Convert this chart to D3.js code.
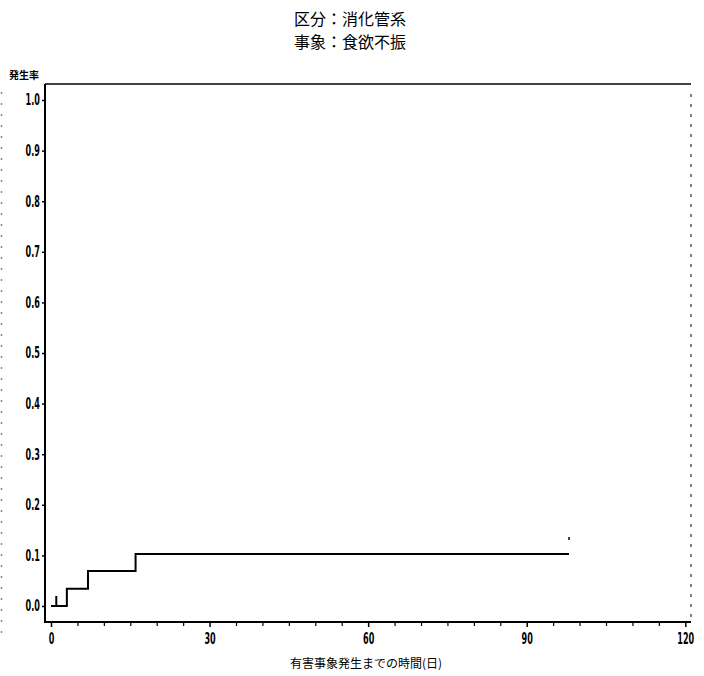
<!DOCTYPE html>
<html>
<head>
<meta charset="utf-8">
<script src="https://cdn.jsdelivr.net/npm/d3@7"></script>
<style>
  html, body { margin: 0; padding: 0; background: #fff; }
  svg { display: block; }
</style>
</head>
<body>
<svg id="chart" width="704" height="676"></svg>
<script>
// ---- data ----
const titleLines = ["区分：消化管系", "事象：食欲不振"];
const yLabel = "発生率";
const xLabel = "有害事象発生までの時間(日)";
const xTicks = [0, 30, 60, 90, 120];
const xMinorTicks = [5, 10, 15, 20, 25, 35, 40, 45, 50, 55, 65, 70, 75, 80, 85, 95, 100, 105, 110, 115];
const yTicks = [0.0, 0.1, 0.2, 0.3, 0.4, 0.5, 0.6, 0.7, 0.8, 0.9, 1.0];
const stepTimes = [0, 3, 7, 16, 98];
const stepRates = [0, 0.034, 0.069, 0.103, 0.103];
const censorTimes = [1];
const censorRates = [0];

// ---- layout ----
const svg = d3.select("#chart");
const frame = { left: 45, right: 691, top: 84, bottom: 622 };
const x = d3.scaleLinear().domain([0, 120]).range([51, 685.3]);
const y = d3.scaleLinear().domain([0, 1]).range([606, 100]);

const tickFont = "'DejaVu Sans Condensed', 'DejaVu Sans', sans-serif";
const cjk = "'Noto Sans CJK JP', 'Noto Sans CJK SC', sans-serif";

// left-edge scan artifact (faint dotted column)
svg.append("line")
  .attr("x1", 1.5).attr("x2", 1.5).attr("y1", 92).attr("y2", 640)
  .attr("stroke", "#888").attr("stroke-width", 1.5)
  .attr("stroke-dasharray", "2,9");

// title
svg.selectAll("text.title").data(titleLines).enter().append("text")
  .attr("class", "title")
  .attr("x", 350).attr("y", (d, i) => 25 + i * 23)
  .attr("text-anchor", "middle")
  .attr("font-family", cjk).attr("font-size", 16)
  .attr("fill", "#000")
  .text(d => d);

// frame: top and right
svg.append("line")
  .attr("x1", frame.left).attr("x2", frame.right)
  .attr("y1", frame.top).attr("y2", frame.top)
  .attr("stroke", "#000").attr("stroke-width", 1.5);
svg.append("line")
  .attr("x1", frame.right).attr("x2", frame.right)
  .attr("y1", frame.top + 10).attr("y2", frame.bottom)
  .attr("stroke", "#000").attr("stroke-width", 1)
  .attr("stroke-dasharray", "3,7");

// y axis
const yAxis = d3.axisLeft(y).tickValues(yTicks).tickFormat(d3.format(".1f"))
  .tickSize(3).tickSizeOuter(0);
const gy = svg.append("g").attr("transform", `translate(${frame.left},0)`).call(yAxis);
gy.select(".domain").remove();
gy.selectAll(".tick line").attr("stroke", "#000").attr("stroke-width", 1.5);
gy.selectAll(".tick text")
  .attr("font-family", tickFont).attr("font-weight", "bold").attr("font-size", 15)
  .attr("fill", "#000").attr("x", -8.5)
  .attr("transform", "scale(0.6,1)");
svg.append("line")
  .attr("x1", frame.left).attr("x2", frame.left)
  .attr("y1", frame.top).attr("y2", frame.bottom + 1)
  .attr("stroke", "#000").attr("stroke-width", 2);

// x axis
const xAxis = d3.axisBottom(x).tickValues(xTicks).tickFormat(d3.format("d"))
  .tickSize(5).tickSizeOuter(0);
const gx = svg.append("g").attr("transform", `translate(0,${frame.bottom})`).call(xAxis);
gx.select(".domain").remove();
gx.selectAll(".tick line").attr("stroke", "#000").attr("stroke-width", 1.5);
gx.selectAll(".tick text")
  .attr("font-family", tickFont).attr("font-weight", "bold").attr("font-size", 15)
  .attr("fill", "#000").attr("dy", "0.95em")
  .attr("transform", "scale(0.6,1)");
const xMinor = d3.axisBottom(x).tickValues(xMinorTicks).tickFormat("").tickSize(4).tickSizeOuter(0);
const gxm = svg.append("g").attr("transform", `translate(0,${frame.bottom})`).call(xMinor);
gxm.select(".domain").remove();
gxm.selectAll(".tick line").attr("stroke", "#000").attr("stroke-width", 1.2);
svg.append("line")
  .attr("x1", frame.left).attr("x2", frame.right)
  .attr("y1", frame.bottom).attr("y2", frame.bottom)
  .attr("stroke", "#000").attr("stroke-width", 2);

// axis labels
svg.append("text")
  .attr("x", 9).attr("y", 79)
  .attr("font-family", cjk).attr("font-size", 10).attr("font-weight", "bold")
  .attr("fill", "#000").text(yLabel);
svg.append("text")
  .attr("x", 366).attr("y", 668)
  .attr("text-anchor", "middle")
  .attr("font-family", cjk).attr("font-size", 12)
  .attr("fill", "#000").text(xLabel);

// step curve
const pts = stepTimes.map((t, i) => [t, stepRates[i]]);
const line = d3.line().x(d => x(d[0])).y(d => y(d[1])).curve(d3.curveStepAfter);
svg.append("path")
  .datum(pts)
  .attr("d", line)
  .attr("fill", "none").attr("stroke", "#000").attr("stroke-width", 2);

// censor marks
svg.selectAll("line.censor").data(censorTimes).enter().append("line")
  .attr("class", "censor")
  .attr("x1", d => x(d)).attr("x2", d => x(d))
  .attr("y1", (d, i) => y(censorRates[i]))
  .attr("y2", (d, i) => y(censorRates[i]) - 10)
  .attr("stroke", "#000").attr("stroke-width", 2);

// end marker
const lastT = stepTimes[stepTimes.length - 1];
const lastR = stepRates[stepRates.length - 1];
svg.append("line")
  .attr("x1", x(lastT)).attr("x2", x(lastT))
  .attr("y1", y(lastR) - 17).attr("y2", y(lastR) - 14)
  .attr("stroke", "#000").attr("stroke-width", 1.5);
</script>
</body>
</html>
